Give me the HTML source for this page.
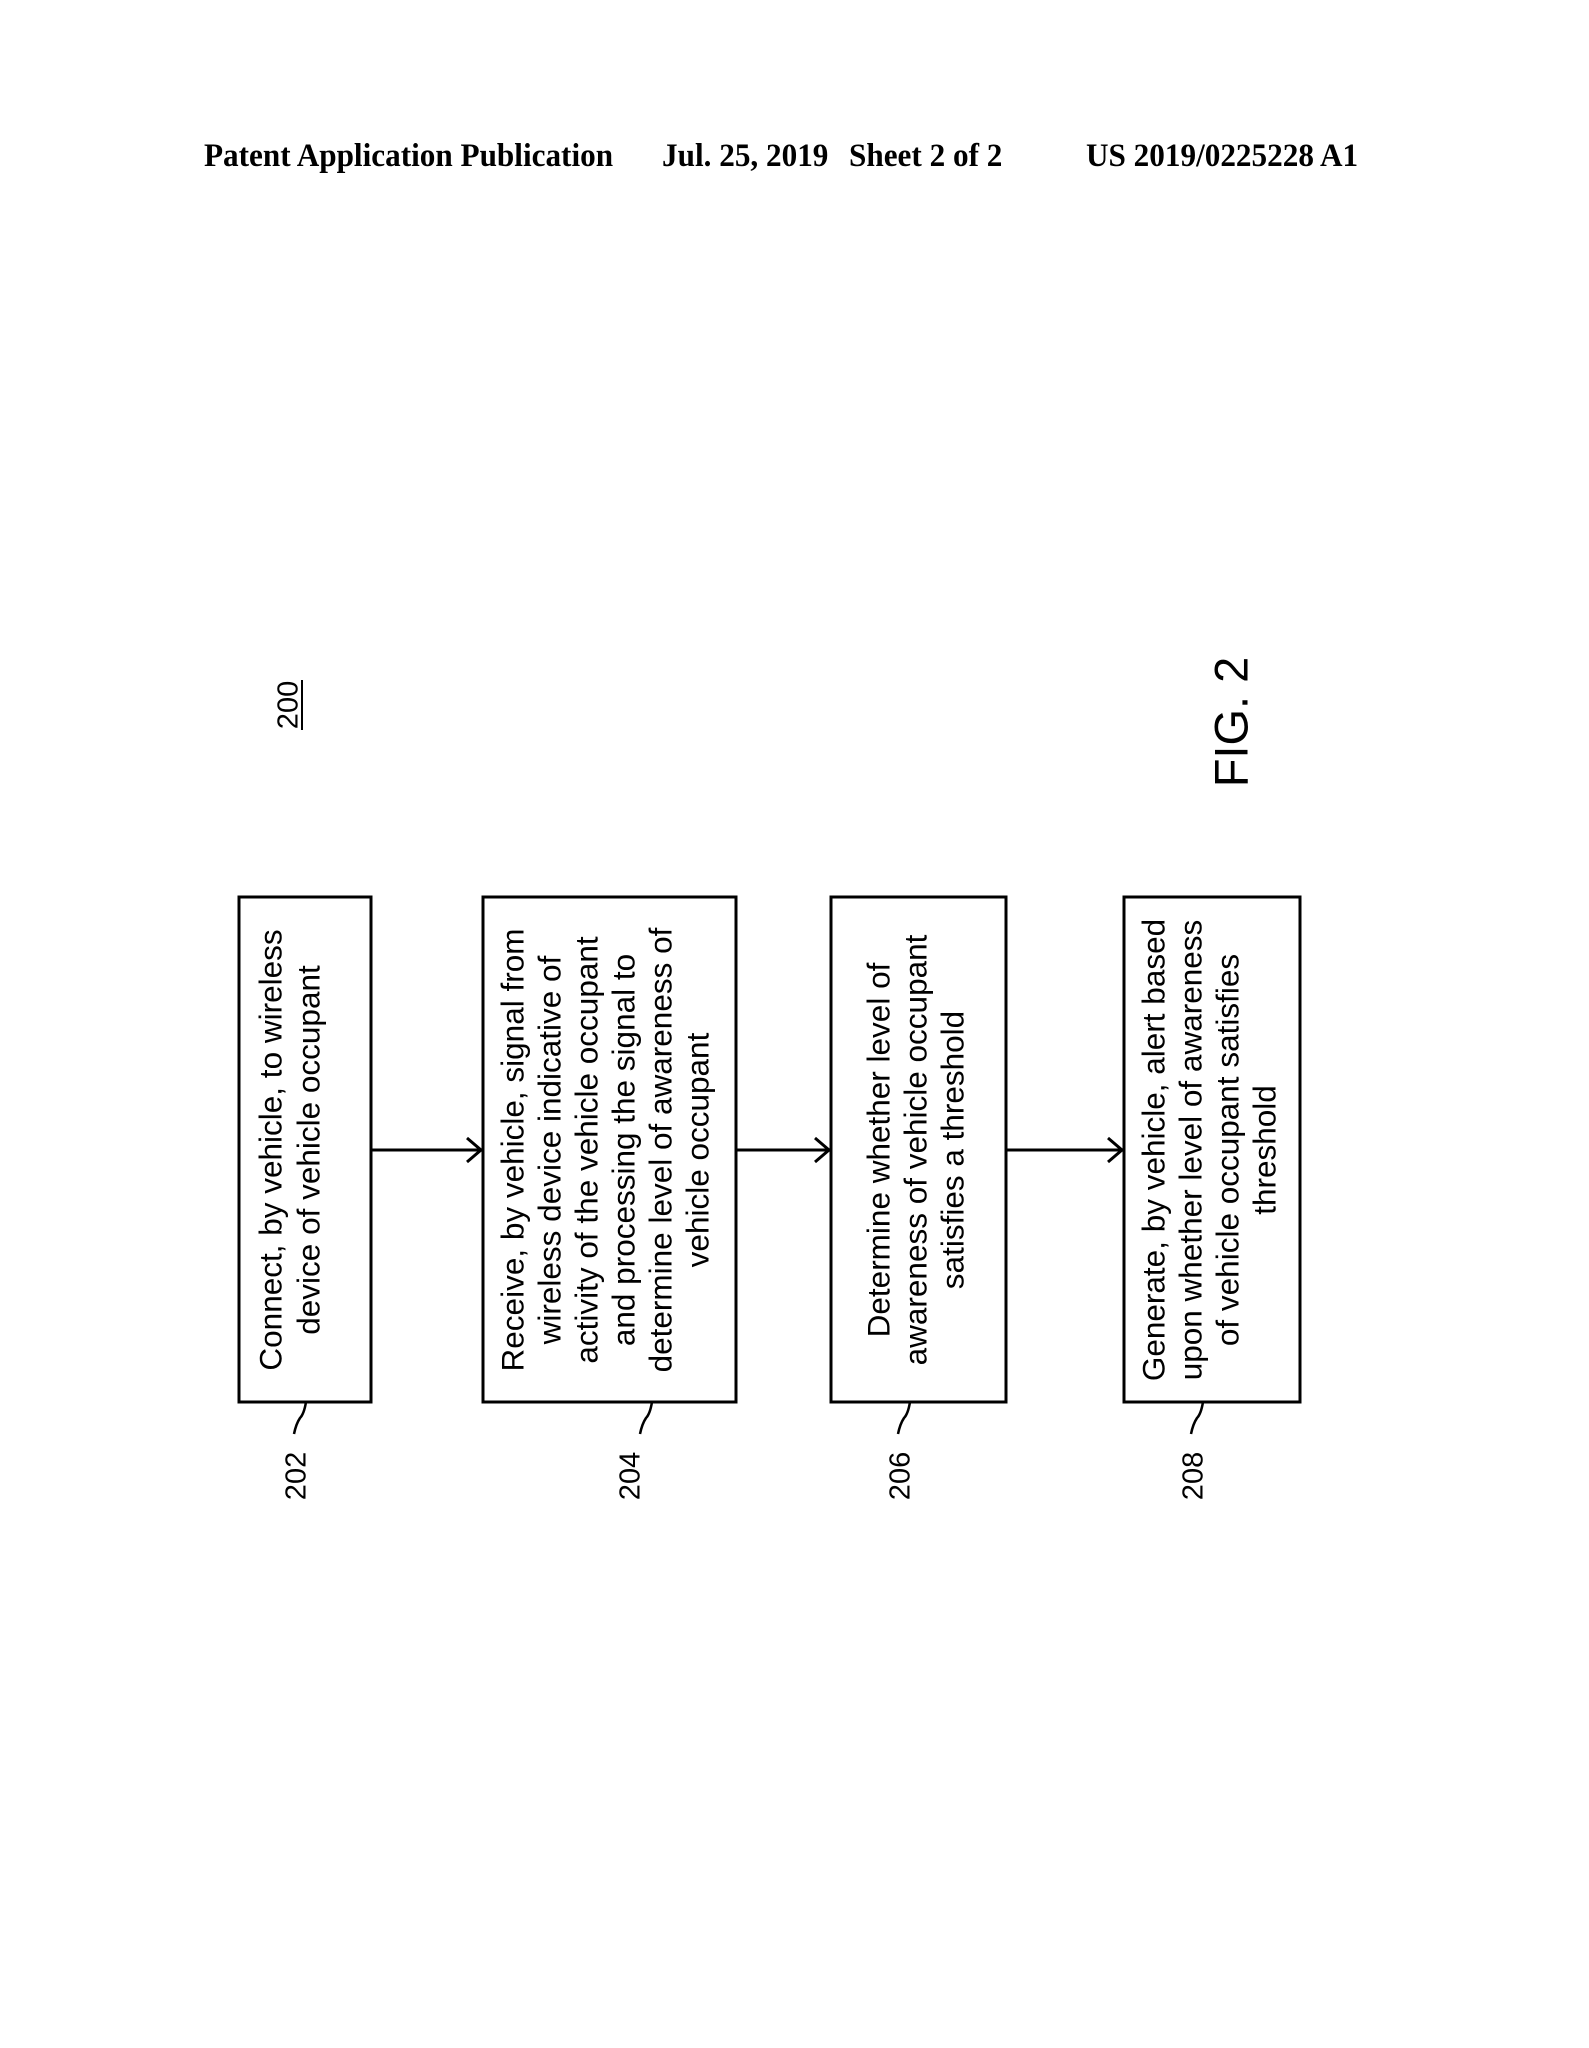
<!DOCTYPE html>
<html><head><style>
html,body{margin:0;padding:0;background:#fff;}
svg{display:block;}
</style></head><body>
<svg width="1589" height="2048" viewBox="0 0 1589 2048" xmlns="http://www.w3.org/2000/svg">
<g font-family="Liberation Serif, serif" font-weight="bold" font-size="30" fill="#000">
<text transform="translate(204,166) scale(1.04,1.1)">Patent Application Publication</text>
<text transform="translate(662,166) scale(1.04,1.1)">Jul. 25, 2019</text>
<text transform="translate(849,166) scale(1.04,1.1)">Sheet 2 of 2</text>
<text transform="translate(1086,166) scale(1.04,1.1)">US 2019/0225228 A1</text>
</g>
<g fill="none" stroke="#000" stroke-width="3">
<rect x="239" y="897" width="132" height="505"/>
<rect x="483" y="897" width="253" height="505"/>
<rect x="831" y="897" width="175" height="505"/>
<rect x="1124" y="897" width="176" height="505"/>
<line x1="371" y1="1150" x2="481" y2="1150"/>
<polyline points="467,1138 481,1150 467,1162"/>
<line x1="736" y1="1150" x2="829" y2="1150"/>
<polyline points="815,1138 829,1150 815,1162"/>
<line x1="1006" y1="1150" x2="1122" y2="1150"/>
<polyline points="1108,1138 1122,1150 1108,1162"/>
<path d="M306,1402 q-2,12 -6,16 q-4,6 -6,16" stroke-width="2.5"/>
<path d="M652,1402 q-2,12 -6,16 q-4,6 -6,16" stroke-width="2.5"/>
<path d="M910,1402 q-2,12 -6,16 q-4,6 -6,16" stroke-width="2.5"/>
<path d="M1203,1402 q-2,12 -6,16 q-4,6 -6,16" stroke-width="2.5"/>
<line x1="302" y1="680" x2="302" y2="730" stroke-width="2"/>
</g>
<g font-family="Liberation Sans, sans-serif" font-size="31.5" fill="#000" text-anchor="middle" dominant-baseline="middle">
<text transform="translate(273,1150) rotate(-90)">Connect, by vehicle, to wireless</text>
<text transform="translate(311,1150) rotate(-90)">device of vehicle occupant</text>

<text transform="translate(515,1150) rotate(-90)">Receive, by vehicle, signal from</text>
<text transform="translate(552,1150) rotate(-90)">wireless device indicative of</text>
<text transform="translate(589,1150) rotate(-90)">activity of the vehicle occupant</text>
<text transform="translate(626,1150) rotate(-90)">and processing the signal to</text>
<text transform="translate(663,1150) rotate(-90)">determine level of awareness of</text>
<text transform="translate(700,1150) rotate(-90)">vehicle occupant</text>

<text transform="translate(881,1150) rotate(-90)">Determine whether level of</text>
<text transform="translate(918,1150) rotate(-90)">awareness of vehicle occupant</text>
<text transform="translate(955,1150) rotate(-90)">satisfies a threshold</text>

<text transform="translate(1156,1150) rotate(-90)">Generate, by vehicle, alert based</text>
<text transform="translate(1193,1150) rotate(-90)">upon whether level of awareness</text>
<text transform="translate(1230,1150) rotate(-90)">of vehicle occupant satisfies</text>
<text transform="translate(1267,1150) rotate(-90)">threshold</text>
</g>
<g font-family="Liberation Sans, sans-serif" font-size="29" fill="#000" text-anchor="middle" dominant-baseline="middle">
<text transform="translate(298,1476) rotate(-90)">202</text>
<text transform="translate(632,1476) rotate(-90)">204</text>
<text transform="translate(902,1476) rotate(-90)">206</text>
<text transform="translate(1195,1476) rotate(-90)">208</text>
<text transform="translate(290,705) rotate(-90)">200</text>
<text font-size="47" transform="translate(1235,722) rotate(-90)">FIG. 2</text>
</g>
</svg>
</body></html>
